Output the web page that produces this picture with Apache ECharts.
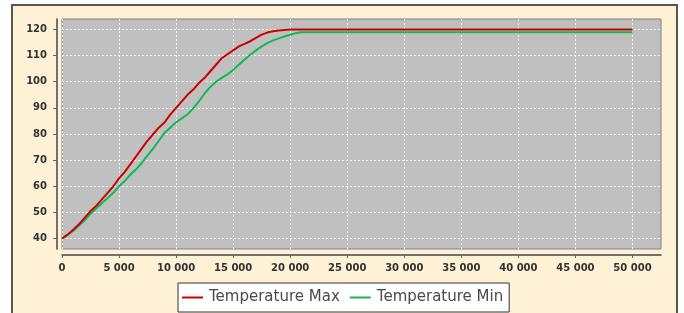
<!DOCTYPE html>
<html>
<head>
<meta charset="utf-8">
<script src="https://cdn.jsdelivr.net/npm/echarts@6/dist/echarts.min.js"></script>
<style>
html,body{margin:0;padding:0;background:#fff;}
#c{width:684px;height:313px;}
</style>
</head>
<body>
<div id="c"></div>
<script>
// ---- data ----
const seriesNames = ['Temperature Max', 'Temperature Min'];
const maxX = [0,500,1000,1500,2000,2500,3000,3500,4000,4500,5000,5500,6000,6500,7000,7500,8000,8500,9000,9500,10000,10500,11000,11500,12000,12500,13000,13500,14000,14500,15000,15500,16000,16500,17000,17500,18000,18500,19000,19500,20000,50000];
const maxY = [40,41.5,43.5,45.5,48,50.5,52.5,55,57.5,60,63,65.5,68.5,71.5,74.5,77.5,80,82.5,84.5,87.5,90,92.5,95,97,99.5,101.5,104,106.5,109,110.5,112,113.5,114.5,115.5,116.8,118,118.8,119.3,119.6,119.8,120,120];
const minX = [0,500,1000,1500,2000,2500,3000,3500,4000,4500,5000,5500,6000,6500,7000,7500,8000,8500,9000,9500,10000,10500,11000,11500,12000,12500,13000,13500,14000,14500,15000,15500,16000,16500,17000,17500,18000,18500,19000,19500,20000,20500,21000,50000];
const minY = [40,41.5,43,45,47,49.5,51.5,53.5,55.5,57.5,60,62,64.5,66.5,69,71.8,74.5,77.5,80.5,82.5,84.5,86,87.5,89.8,92.5,95.5,98,100,101.5,102.8,104.5,106.5,108.5,110.3,112,113.5,114.8,115.8,116.6,117.3,118,118.6,118.9,118.9];
const xTicks = [0,5000,10000,15000,20000,25000,30000,35000,40000,45000,50000];
const yTicks = [40,50,60,70,80,90,100,110,120];

const fmt = v => String(v).replace(/\B(?=(\d{3})+(?!\d))/g, ' ');
const zip = (a, b) => a.map((v, i) => [v, b[i]]);

const chart = echarts.init(document.getElementById('c'), null, {renderer: 'canvas'});
const font = 'DejaVu Sans';
chart.setOption({
  animation: false,
  backgroundColor: '#ffffff',
  graphic: [{
    type: 'rect', z: -10, silent: true,
    shape: {x: 12, y: 5, width: 665, height: 400},
    style: {fill: '#FEF1D6', stroke: '#555555', lineWidth: 2}
  }],
  grid: {
    left: 62, right: 23, top: 19, bottom: 64,
    show: true, backgroundColor: '#C0C0C0', borderColor: '#808080', borderWidth: 1
  },
  xAxis: {
    type: 'value', min: 0, max: 52500, offset: 6,
    axisLine: {show: true, onZero: false, lineStyle: {color: '#444444', width: 1.5}},
    axisTick: {show: true, length: 3, customValues: xTicks, lineStyle: {color: '#666666'}},
    axisLabel: {customValues: xTicks, formatter: fmt, margin: 8,
      fontFamily: font, fontSize: 10, fontWeight: 'bold', color: '#333333'},
    splitLine: {show: true, lineStyle: {color: '#F2F2F2', type: [2, 2], width: 1}}
  },
  yAxis: {
    type: 'value', min: 36, max: 124, offset: 5,
    axisLine: {show: true, onZero: false, lineStyle: {color: '#444444', width: 1.5}},
    axisTick: {show: true, length: 4, customValues: yTicks, lineStyle: {color: '#666666'}},
    axisLabel: {customValues: yTicks, margin: 10,
      fontFamily: font, fontSize: 10, fontWeight: 'bold', color: '#333333'},
    splitLine: {show: true, lineStyle: {color: '#F2F2F2', type: [2, 2], width: 1}}
  },
  legend: {
    left: 178, top: 283,
    data: seriesNames,
    backgroundColor: '#ffffff', borderColor: '#333333', borderWidth: 1, borderRadius: 0,
    padding: [7, 6, 7, 4],
    icon: 'rect', itemWidth: 21, itemHeight: 2, itemGap: 10,
    textStyle: {fontFamily: font, fontSize: 15, color: '#4a4a4a', padding: [0, 0, 0, 1]}
  },
  series: [
    {name: seriesNames[0], type: 'line', showSymbol: false, data: zip(maxX, maxY),
      color: '#CC0000', lineStyle: {width: 2, color: '#CC0000'}, z: 3},
    {name: seriesNames[1], type: 'line', showSymbol: false, data: zip(minX, minY),
      color: '#10B956', lineStyle: {width: 2, color: '#10B956'}, z: 2}
  ]
});
</script>
</body>
</html>
